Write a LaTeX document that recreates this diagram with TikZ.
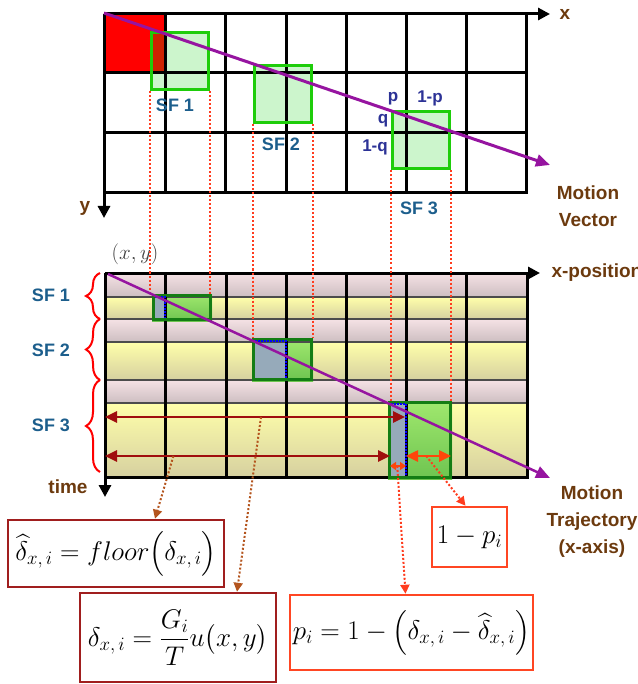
\RequirePackage{fix-cm}
\documentclass[tikz,border=0pt]{standalone}
\usepackage{amsmath}
\usepackage{fontspec}
\setmainfont{Liberation Sans}
\usetikzlibrary{arrows.meta,positioning,decorations.pathreplacing,backgrounds}

\definecolor{sfblue}{RGB}{28,94,140}
\definecolor{pqblue}{RGB}{44,50,150}
\definecolor{tagbrown}{RGB}{108,58,14}
\definecolor{mvpurple}{RGB}{150,20,160}
\definecolor{lightgreen}{RGB}{204,245,204}
\definecolor{brightgreen}{RGB}{30,205,10}
\definecolor{deepgreen}{RGB}{20,125,20}
\definecolor{darkred}{RGB}{205,35,0}
\definecolor{grayblue}{RGB}{150,170,186}
\definecolor{arrowred}{RGB}{160,14,14}
\definecolor{arroworange}{RGB}{255,70,10}
\definecolor{eqred}{RGB}{160,30,30}
\definecolor{eqorange}{RGB}{255,70,35}
\definecolor{dotbrown}{RGB}{180,85,30}
\definecolor{dotred}{RGB}{255,60,30}
\definecolor{pinktop}{RGB}{245,226,229}
\definecolor{pinkbot}{RGB}{205,190,193}
\definecolor{yellowtop}{RGB}{255,255,170}
\definecolor{yellowbot}{RGB}{214,208,160}
\definecolor{greentop}{RGB}{160,232,110}
\definecolor{greenbot}{RGB}{110,196,80}

\begin{document}
\begin{tikzpicture}[x=1pt,y=-1pt,
    gridline/.style={line width=3pt,line cap=rect},
    rowline/.style={line width=1.2pt,black!70},
    axis/.style={line width=3pt,-{Triangle[length=12pt,width=12pt]}},
    sflabel/.style={font=\bfseries\fontsize{18}{20}\selectfont,text=sfblue},
    pqlabel/.style={font=\bfseries\fontsize{17}{20}\selectfont,text=pqblue},
    tag/.style={font=\bfseries\fontsize{19}{27}\selectfont,text=tagbrown,align=center},
    topbox/.style={rectangle,draw=brightgreen,line width=3pt,minimum size=57pt,inner sep=0pt},
    botbox/.style={rectangle,draw=deepgreen,line width=3pt,inner sep=0pt},
    eqbox/.style={rectangle,line width=2.5pt,inner sep=0pt,font=\fontsize{27}{32}\selectfont},
    guide/.style={dotred,dotted,line width=2pt},
    sfbrace/.style={red,line width=2pt,decorate,decoration={brace,amplitude=14pt}},
    spanarrow/.style={line width=2.5pt,{Triangle[length=12pt,width=11pt]}-{Triangle[length=12pt,width=11pt]}},
    smallspan/.style={line width=2pt,{Triangle[length=6pt,width=8pt]}-{Triangle[length=6pt,width=8pt]}},
    link/.style={dotted,line width=2pt,-{Triangle[length=9pt,width=9pt]}}
    ]
    \useasboundingbox (0,0) rectangle (637,684);

    % Top grid (block positions)
    \foreach \x in {165,225,286,346,406,466,526}
      \draw[gridline] (\x,14) -- (\x,193);
    \foreach \y in {73,133,193}
      \draw[gridline] (104,\y) -- (526,\y);
    \draw[axis] (104,14) -- coordinate[pos=1] (xend) (550,14);
    \draw[axis] (104,14) -- (104,218);
    \node[tag,right=6pt of xend] (xlab) {x};
    \node[tag] (ylab) at (85,208) {y};

    % Sub-frame blocks
    \node[topbox] (sfa) at (179.5,61.5) {};
    \node[topbox] (sfb) at (282.5,94.5) {};
    \node[topbox] (sfc) at (420.5,140.5) {};
    \begin{scope}[on background layer]
      \fill[red] (104,14) rectangle (165,73);
      \foreach \b in {sfa,sfb,sfc}
        \fill[lightgreen] (\b.north west) rectangle (\b.south east);
      \fill[darkred] (sfa.north west) rectangle (165,73);
    \end{scope}
    \node[sflabel] (sfatext) at (175,105) {SF 1};
    \node[sflabel] (sfbtext) at (281,144) {SF 2};
    \node[sflabel] (sfctext) at (419,208) {SF 3};
    \node[pqlabel] (p) at (393,99) {p};
    \node[pqlabel] (onep) at (430,98) {1-p};
    \node[pqlabel] (q) at (383,121) {q};
    \node[pqlabel] (oneq) at (375,147) {1-q};

    % Motion vector
    \draw[mvpurple,line width=3pt,-{Triangle[length=14pt,width=12pt]}] (104,13) -- (550,165);
    \node[tag] (mv) at (588,206) {Motion\\Vector};

    % Bottom grid (x-position vs. time)
    \foreach \y in {297,319,342,380,403}
      \draw[rowline] (105,\y) -- (527,\y);
    \foreach \x in {165,226,286,346,406,466,527}
      \draw[gridline] (\x,273) -- (\x,477);
    \draw[gridline] (105,477) -- (527,477);
    \draw[axis] (105,273) -- (540,273);
    \draw[axis] (105,273) -- (105,497);
    \node[tag,anchor=west] (xpos) at (548,273) {x-position};
    \node[tag] (timelab) at (68,487) {time};
    \node[font=\fontsize{21}{24}\selectfont,text=black!75] (xy) at (135,254) {$(x,y)$};

    \node[botbox,minimum width=57pt,minimum height=24pt] (sfalow) at (182,307.5) {};
    \node[botbox,minimum width=58pt,minimum height=40pt] (sfblow) at (282.5,359.5) {};
    \node[botbox,minimum width=61pt,minimum height=75pt] (sfclow) at (420,440) {};
    \begin{scope}[on background layer]
      \foreach \a/\b/\t/\u in {273/297/pinktop/pinkbot,297/319/yellowtop/yellowbot,
          319/342/pinktop/pinkbot,342/380/yellowtop/yellowbot,
          380/403/pinktop/pinkbot,403/477/yellowtop/yellowbot}
        \shade[top color=\t,bottom color=\u] (105,\a) rectangle (527,\b);
      \foreach \b in {sfalow,sfblow,sfclow}
        \shade[top color=greentop,bottom color=greenbot] (\b.north west) rectangle (\b.south east);
      \fill[grayblue] (sfalow.north west) rectangle (165,319.5);
      \fill[grayblue] (sfblow.north west) rectangle (286,379.5);
      \fill[grayblue] (sfclow.north west) rectangle (406,477.5);
    \end{scope}
    \draw[blue,densely dotted,line width=2pt] (155,297) -| (165,318);
    \draw[blue,densely dotted,line width=2pt] (255,341) -| (286,378);
    \draw[blue,densely dotted,line width=2pt] (391,404) -| (406,476);

    % Projections of the blocks
    \foreach \t/\l in {sfa/sfalow,sfb/sfblow,sfc/sfclow} {
      \draw[guide] (\t.south west) -- (\t.south west |- \l.north);
      \draw[guide] (\t.south east) -- (\t.south east |- \l.north);
    }

    % Braces
    \draw[sfbrace] (100,319) -- (100,273);
    \draw[sfbrace] (100,380) -- (100,319);
    \draw[sfbrace] (100,472) -- (100,380);
    \node[sflabel] (sfaside) at (51,295) {SF 1};
    \node[sflabel] (sfbside) at (51,350) {SF 2};
    \node[sflabel] (sfcside) at (51,425) {SF 3};

    % Motion trajectory
    \draw[mvpurple,line width=2.5pt,-{Triangle[length=14pt,width=12pt]}] (108,274) -- (550,478);
    \node[tag] (traj) at (592,522) {Motion\\Trajectory\\(x-axis)};

    % Offsets
    \draw[spanarrow,arrowred] (105,417) -- coordinate[pos=0.52] (deltapt) (405,417);
    \draw[spanarrow,arrowred] (105,456) -- coordinate[pos=0.24] (deltahatpt) (390,456);
    \draw[smallspan,arroworange] (390,466) -- coordinate[pos=0.45] (ppt) (406,466);
    \draw[spanarrow,arroworange] (406,456) -- coordinate[pos=0.45] (onept) (451,456);

    % Equations
    \node[eqbox,draw=eqred,minimum width=216pt,minimum height=67pt] (floorbox) at (116,553.5)
      {$\widehat{\delta}_{x,\,i}=\mathnormal{floor}\Bigl(\delta_{x,\,i}\Bigr)$};
    \node[eqbox,draw=eqred,minimum width=196pt,minimum height=89pt] (deltabox) at (178,637.5)
      {$\delta_{x,\,i}=\dfrac{G_i}{T}u\bigl(x,y\bigr)$};
    \node[eqbox,draw=eqorange,minimum width=243pt,minimum height=75pt] (pbox) at (411.5,632.5)
      {$p_i=1-\Bigl(\delta_{x,\,i}-\widehat{\delta}_{x,\,i}\Bigr)$};
    \node[eqbox,draw=eqorange,minimum width=75pt,minimum height=60pt] (qbox) at (469.5,537)
      {$1-p_i$};

    \draw[link,dotbrown] (deltahatpt) -- ([xshift=39pt]floorbox.north);
    \draw[link,dotbrown] (deltapt) -- ([xshift=59pt]deltabox.north);
    \draw[link,dotred] (ppt) -- ([xshift=-6pt]pbox.north);
    \draw[link,dotred] (onept) -- ([xshift=-4pt]qbox.north);
\end{tikzpicture}
\end{document}
